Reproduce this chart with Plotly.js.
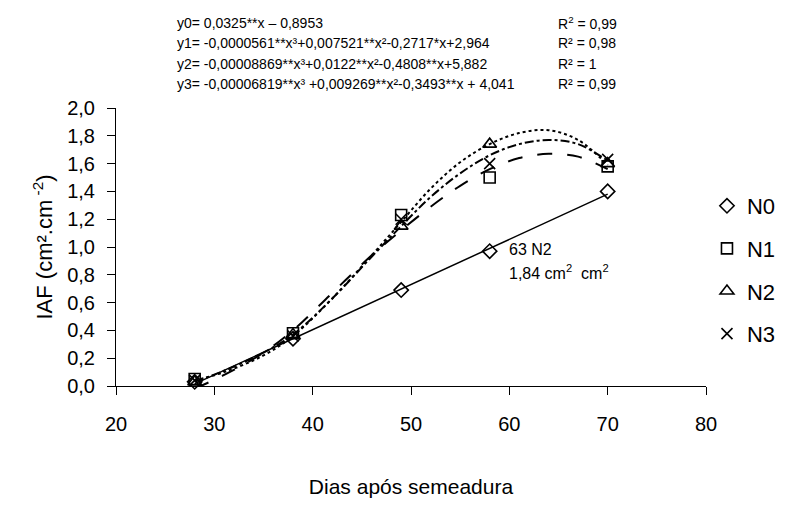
<!DOCTYPE html>
<html>
<head>
<meta charset="utf-8">
<script src="https://cdn.plot.ly/plotly-3.0.1.min.js"></script>
<style>html,body{margin:0;padding:0;background:#fff;}#chart{width:793px;height:510px;}</style>
</head>
<body>
<div id="chart"></div>
<script>
// Observed data (days after sowing vs IAF)
const days = [28, 38, 49, 58, 70];
const n0 = [0.03, 0.34, 0.69, 0.97, 1.40];
const n1 = [0.05, 0.38, 1.23, 1.50, 1.58];
const n2 = [0.03, 0.37, 1.15, 1.74, 1.60];
const n3 = [0.04, 0.36, 1.20, 1.60, 1.63];

// Fitted curves
const fitDaysN0 = [28, 70];
const fitN0 = [0.015, 1.38];
const fitDays = [28, 31, 35, 38, 42, 46, 49, 52, 55, 58, 61, 64, 67, 70];
const fitN1 = [-0.02, 0.08, 0.24, 0.40, 0.67, 0.94, 1.12, 1.29, 1.44, 1.56, 1.64, 1.67, 1.65, 1.56];
const fitN2 = [0.04, 0.10, 0.22, 0.36, 0.63, 0.94, 1.18, 1.42, 1.61, 1.74, 1.82, 1.84, 1.77, 1.59];
const fitN3 = [0.03, 0.11, 0.24, 0.37, 0.63, 0.93, 1.15, 1.36, 1.53, 1.66, 1.74, 1.77, 1.74, 1.62];

const seriesNames = ["N0", "N1", "N2", "N3"];
const equations = [
  "y0= 0,0325**x \u2013 0,8953",
  "y1= -0,0000561**x\u00b3+0,007521**x\u00b2-0,2717*x+2,964",
  "y2= -0,00008869**x\u00b3+0,0122**x\u00b2-0,4808**x+5,882",
  "y3= -0,00006819**x\u00b3 +0,009269**x\u00b2-0,3493**x + 4,041"
];
const r2Labels = ["R<sup>2</sup> = 0,99", "R\u00b2 = 0,98", "R\u00b2 = 1", "R\u00b2 = 0,99"];
const noteLines = ["63 N2", "1,84 cm<sup>2</sup>  cm<sup>2</sup>"];

const FONT = "Liberation Sans, Arial, sans-serif";
const BLACK = "#000";

// plot-area pixel geometry (for placing text)
const L = 116, R = 721, T = 108, B = 386;
const px = v => (v - L) / (R - L);
const py = v => (B - v) / (B - T);

const traces = [
  {x: fitDaysN0, y: fitN0, mode: "lines", line: {color: BLACK, width: 1.5}, showlegend: false},
  {x: fitDays, y: fitN1, mode: "lines", line: {color: BLACK, width: 2, dash: "longdash", shape: "spline"}, showlegend: false},
  {x: fitDays, y: fitN2, mode: "lines", line: {color: BLACK, width: 2, dash: "dot", shape: "spline"}, showlegend: false},
  {x: fitDays, y: fitN3, mode: "lines", line: {color: BLACK, width: 2, dash: "dashdot", shape: "spline"}, showlegend: false}
];

const symbols = ["diamond-open", "square-open", "triangle-up-open", "x-thin-open"];
const sizes = [11, 11, 12, 11];
[n0, n1, n2, n3].forEach((ys, i) => {
  traces.push({
    x: days, y: ys, mode: "markers", name: seriesNames[i], legendgroup: seriesNames[i],
    marker: {symbol: symbols[i], size: sizes[i], color: BLACK, line: {color: BLACK, width: 1.6}},
    cliponaxis: false
  });
});

const annotations = [];
const eqY = [23, 43, 64, 84];
equations.forEach((t, i) => {
  annotations.push({xref: "paper", yref: "paper", x: px(176), y: py(eqY[i]), xanchor: "left", yanchor: "middle",
    text: t, showarrow: false, font: {family: FONT, size: 14, color: BLACK}});
  annotations.push({xref: "paper", yref: "paper", x: px(567), y: py(eqY[i]), xanchor: "left", yanchor: "middle",
    text: r2Labels[i], showarrow: false, font: {family: FONT, size: 14, color: BLACK}});
});
annotations.push({xref: "paper", yref: "paper", x: px(517), y: py(249), xanchor: "left", yanchor: "middle",
  text: noteLines[0], showarrow: false, font: {family: FONT, size: 16, color: BLACK}});
annotations.push({xref: "paper", yref: "paper", x: px(517), y: py(272), xanchor: "left", yanchor: "middle",
  text: noteLines[1], showarrow: false, font: {family: FONT, size: 16, color: BLACK}});

const layout = {
  width: 793, height: 510,
  margin: {l: L, r: 793 - R, t: T, b: 510 - B, pad: 0},
  paper_bgcolor: "#fff", plot_bgcolor: "#fff",
  separators: ", ",
  font: {family: FONT, size: 20, color: BLACK},
  showlegend: true,
  legend: {x: px(722), y: py(185), xanchor: "left", yanchor: "top", traceorder: "grouped", tracegroupgap: 11,
    font: {family: FONT, size: 22, color: BLACK}, bgcolor: "rgba(0,0,0,0)", itemwidth: 30},
  xaxis: {range: [20, 80], dtick: 10, tick0: 20, showgrid: false, zeroline: false, showline: true, linecolor: BLACK, linewidth: 1,
    ticks: "outside", ticklen: 8, tickcolor: BLACK, ticklabelstandoff: 12, tickfont: {family: FONT, size: 20, color: BLACK},
    title: {text: "Dias após semeadura", font: {family: FONT, size: 21, color: BLACK}, standoff: 45}},
  yaxis: {range: [0, 2], dtick: 0.2, tick0: 0, tickformat: ".1f", showgrid: false, zeroline: false, showline: true, linecolor: BLACK, linewidth: 1,
    ticks: "outside", ticklen: 8, tickcolor: BLACK, ticklabelstandoff: 8, tickfont: {family: FONT, size: 20, color: BLACK},
    title: {text: "IAF (cm².cm<sup> -2</sup>)", font: {family: FONT, size: 22, color: BLACK}, standoff: 8}},
  annotations: annotations
};

Plotly.newPlot("chart", traces, layout, {staticPlot: true, displayModeBar: false});
</script>
</body>
</html>
